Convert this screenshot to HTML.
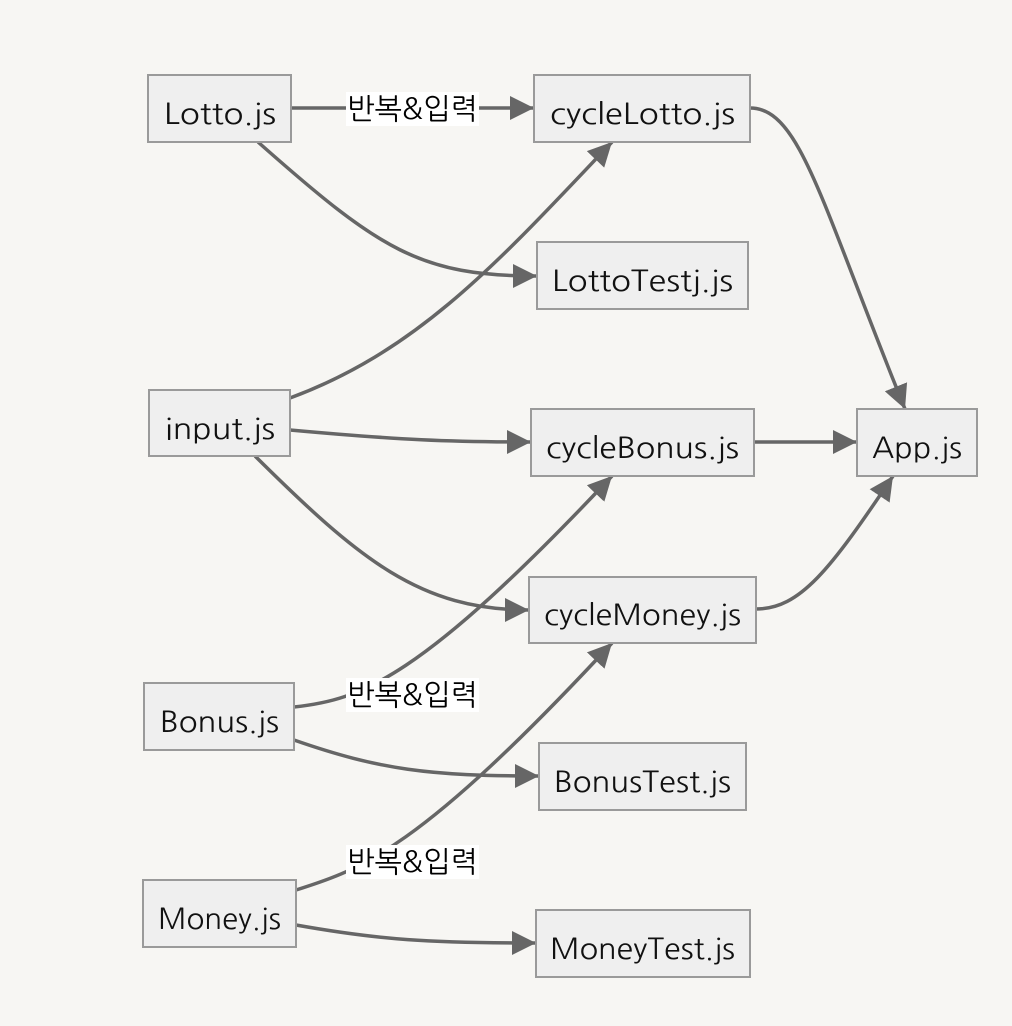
<!DOCTYPE html>
<html><head><meta charset="utf-8"><style>
html,body{margin:0;padding:0;background:#f7f6f3;}
svg{display:block}
text{font-family:"NanumGothic","Liberation Sans","Noto Sans CJK KR",sans-serif;font-size:29px;fill:#111;}
.l{font-family:"NanumGothic","Noto Sans CJK KR",sans-serif;font-size:29px;fill:#000;}
.n{fill:#efefef;stroke:#9a9a9a;stroke-width:2}
.e{fill:none;stroke:#666;stroke-width:3.5;marker-end:url(#a)}
</style></head><body>
<svg width="1012" height="1026" viewBox="0 0 1012 1026">
<defs><marker id="a" markerUnits="userSpaceOnUse" markerWidth="26" markerHeight="26" refX="24" refY="13" orient="auto"><path d="M0,1 L24,13 L0,25 Z" fill="#666"/></marker></defs>
<rect width="1012" height="1026" fill="#f7f6f3"/>
<path class="e" d="M291,108 L534,108"/>
<path class="e" d="M258,142 C380,250 420,276 537,276"/>
<path class="e" d="M290,398 C420,350 500,260 612,142"/>
<path class="e" d="M290,430 C400,440 450,442 531,442"/>
<path class="e" d="M255,456 C360,560 420,610 529,610"/>
<path class="e" d="M750,108 C800,108 820,200 905,409"/>
<path class="e" d="M754,442 L857,442"/>
<path class="e" d="M756,609 C800,609 830,570 893,476"/>
<path class="e" d="M294,707 C360,700 420,680 612,476"/>
<path class="e" d="M294,740 C380,770 430,776 539,776"/>
<path class="e" d="M296,890 C360,870 420,850 612,643"/>
<path class="e" d="M296,925 C380,940 430,943 536,943"/>
<rect x="346" y="92" width="133" height="34" fill="#fff"/><text class="l" x="347" y="119" textLength="131" lengthAdjust="spacingAndGlyphs">반복&amp;입력</text>
<rect x="346" y="678" width="133" height="34" fill="#fff"/><text class="l" x="347" y="705" textLength="131" lengthAdjust="spacingAndGlyphs">반복&amp;입력</text>
<rect x="346" y="845" width="133" height="34" fill="#fff"/><text class="l" x="347" y="872" textLength="131" lengthAdjust="spacingAndGlyphs">반복&amp;입력</text>
<rect class="n" x="148" y="75" width="143" height="67"/><text x="164" y="124" textLength="112" lengthAdjust="spacingAndGlyphs">Lotto.js</text>
<rect class="n" x="534" y="75" width="216" height="67"/><text x="550" y="124" textLength="185" lengthAdjust="spacingAndGlyphs">cycleLotto.js</text>
<rect class="n" x="537" y="242" width="211" height="67"/><text x="552" y="291" textLength="181" lengthAdjust="spacingAndGlyphs">LottoTestj.js</text>
<rect class="n" x="149" y="390" width="141" height="66"/><text x="165" y="439" textLength="110" lengthAdjust="spacingAndGlyphs">input.js</text>
<rect class="n" x="531" y="409" width="223" height="67"/><text x="546" y="458" textLength="193" lengthAdjust="spacingAndGlyphs">cycleBonus.js</text>
<rect class="n" x="857" y="409" width="120" height="67"/><text x="872" y="458" textLength="90" lengthAdjust="spacingAndGlyphs">App.js</text>
<rect class="n" x="529" y="577" width="227" height="66"/><text x="544" y="625" textLength="197" lengthAdjust="spacingAndGlyphs">cycleMoney.js</text>
<rect class="n" x="144" y="683" width="150" height="67"/><text x="160" y="732" textLength="119" lengthAdjust="spacingAndGlyphs">Bonus.js</text>
<rect class="n" x="539" y="743" width="207" height="67"/><text x="554" y="792" textLength="177" lengthAdjust="spacingAndGlyphs">BonusTest.js</text>
<rect class="n" x="143" y="880" width="153" height="67"/><text x="158" y="929" textLength="123" lengthAdjust="spacingAndGlyphs">Money.js</text>
<rect class="n" x="536" y="910" width="214" height="67"/><text x="550" y="959" textLength="185" lengthAdjust="spacingAndGlyphs">MoneyTest.js</text>
</svg>
</body></html>
